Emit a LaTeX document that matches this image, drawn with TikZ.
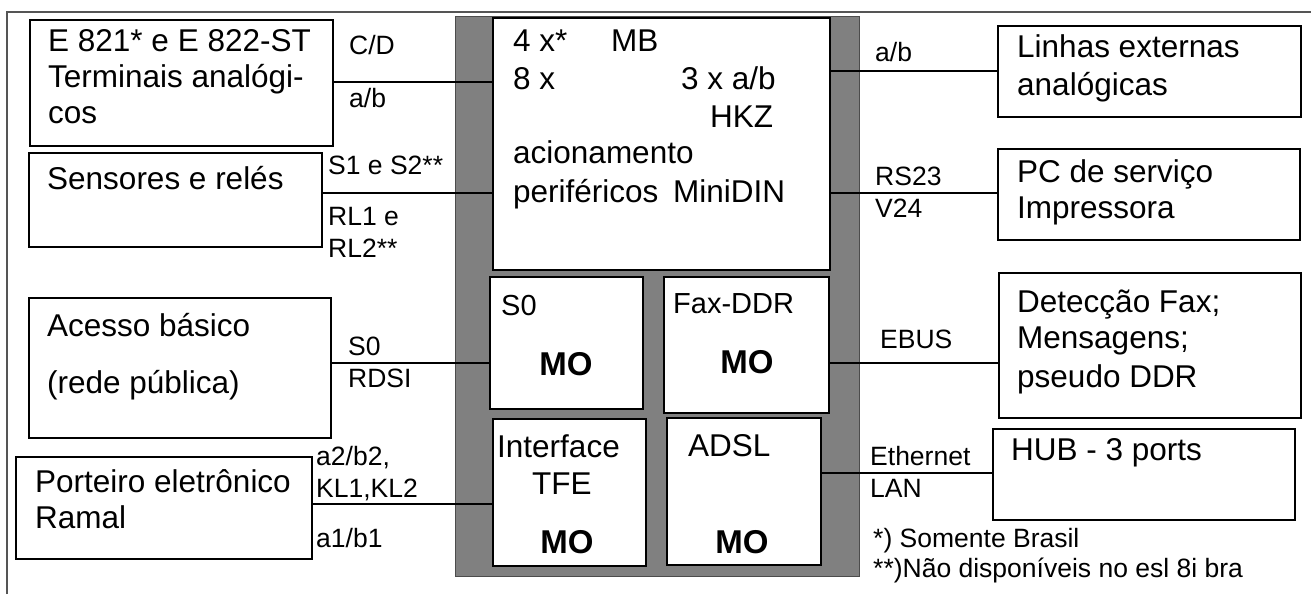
\documentclass[tikz,border=0pt]{standalone}
\usepackage{fontspec}
\setmainfont{Liberation Sans}
\definecolor{panelgray}{HTML}{808080}
\definecolor{framegray}{HTML}{555555}
\tikzset{
  box/.style={draw, line width=2pt, fill=white, inner sep=0pt, anchor=north west},
  big/.style={font=\fontsize{31.5}{35}\selectfont, inner sep=0pt, anchor=base west},
  mid/.style={font=\fontsize{29}{33}\selectfont, inner sep=0pt, anchor=base west},
  lbl/.style={font=\fontsize{26.5}{30}\selectfont, inner sep=0pt, anchor=base west},
  foot/.style={font=\fontsize{26.5}{30}\selectfont, inner sep=0pt, anchor=base west},
  mo/.style={font=\fontsize{33}{37}\selectfont\bfseries, inner sep=0pt, anchor=base},
  wire/.style={line width=1.3pt}
}
\begin{document}
\begin{tikzpicture}[x=1pt,y=-1pt]
\useasboundingbox (0,0) rectangle (1311,594);
% outer frame
\draw[framegray, line width=1.2pt] (7,594) -- (7,12) -- (1311,12);
% grey panel
\node[draw=black!70, fill=panelgray, line width=1pt, inner sep=0pt, anchor=north west,
      minimum width=404pt, minimum height=560pt] (panel) at (455,16) {};
% boxes
\node[box, minimum width=303pt, minimum height=126pt] (e821) at (29,19) {};
\node[box, minimum width=293pt, minimum height=94pt]  (sens) at (28,152) {};
\node[box, minimum width=302pt, minimum height=140pt] (acc)  at (28,297) {};
\node[box, minimum width=296pt, minimum height=102pt] (port) at (15,456) {};
\node[box, minimum width=337pt, minimum height=252pt] (main) at (492,17) {};
\node[box, minimum width=153pt, minimum height=132pt] (s0)   at (489,276) {};
\node[box, minimum width=165pt, minimum height=136pt] (fax)  at (663,276) {};
\node[box, minimum width=153pt, minimum height=147pt] (tfe)  at (492,418) {};
\node[box, minimum width=154pt, minimum height=147pt] (adsl) at (666,417) {};
\node[box, minimum width=303pt, minimum height=91pt]  (lin)  at (997,25) {};
\node[box, minimum width=302pt, minimum height=91pt]  (pc)   at (997,148) {};
\node[box, minimum width=302pt, minimum height=145pt] (det)  at (998,272) {};
\node[box, minimum width=302pt, minimum height=91pt]  (hub)  at (992,428) {};
% connectors
\draw[wire] (e821.east |- 0,82) -- (main.west |- 0,82);
\draw[wire] (sens.east |- 0,193) -- (main.west |- 0,193);
\draw[wire] (acc.east |- 0,363) -- (s0.west |- 0,363);
\draw[wire] (port.east |- 0,504) -- (tfe.west |- 0,504);
\draw[wire] (main.east |- 0,71) -- (lin.west |- 0,71);
\draw[wire] (main.east |- 0,193) -- (pc.west |- 0,193);
\draw[wire] (fax.east |- 0,363) -- ([xshift=2pt]det.west |- 0,363);
\draw[wire] (adsl.east |- 0,473) -- (hub.west |- 0,473);
% left box texts
\node[big] (t1) at (48,52) {E 821* e E 822-ST};
\node[big] (t2) at (48,87) {Terminais analógi-};
\node[big] (t3) at (48,123) {cos};
\node[big] (t4) at (47,189) {Sensores e relés};
\node[big] (t5) at (47,336) {Acesso básico};
\node[big] (t6) at (47,393) {(rede pública)};
\node[big] (t7) at (35,492) {Porteiro eletrônico};
\node[big] (t8) at (35,528) {Ramal};
% main box texts
\node[big] (m1) at (513,52) {4 x*};
\node[big] (m2) at (611,52) {MB};
\node[big] (m3) at (513,89) {8 x};
\node[big] (m4) at (681,89) {3 x a/b};
\node[big] (m5) at (710,127) {HKZ};
\node[big] (m6) at (513,163) {acionamento};
\node[big] (m7) at (513,202) {periféricos};
\node[big] (m8) at (673,202) {MiniDIN};
% module texts
\node[mid] (s0t) at (501,315) {S0};
\node[mo] (s0m) at (566,375) {MO};
\node[mid] (faxt) at (673,313) {Fax-DDR};
\node[mo] (faxm) at (747,373) {MO};
\node[big] (tfe1) at (497,457) {Interface};
\node[big] (tfe2) at (532,494) {TFE};
\node[mo] (tfem) at (567,553) {MO};
\node[big] (adt) at (688,456) {ADSL};
\node[mo] (adm) at (742,553) {MO};
% right box texts
\node[big] (r1) at (1017,58) {Linhas externas};
\node[big] (r2) at (1017,95) {analógicas};
\node[big] (r3) at (1017,182) {PC de serviço};
\node[big] (r4) at (1017,218) {Impressora};
\node[big] (r5) at (1017,312) {Detecção Fax;};
\node[big] (r6) at (1017,348) {Mensagens;};
\node[big] (r7) at (1017,387) {pseudo DDR};
\node[big] (r8) at (1011,460) {HUB - 3 ports};
% connector labels left
\node[lbl] (l1) at (349,55) {C/D};
\node[lbl] (l2) at (349,107) {a/b};
\node[lbl] (l3) at (328,174) {S1 e S2**};
\node[lbl] (l4) at (328,225) {RL1 e};
\node[lbl] (l5) at (328,257) {RL2**};
\node[lbl] (l6) at (348,355) {S0};
\node[lbl] (l7) at (348,387) {RDSI};
\node[lbl] (l8) at (316,465) {a2/b2,};
\node[lbl] (l9) at (316,497) {KL1,KL2};
\node[lbl] (l10) at (316,547) {a1/b1};
% connector labels right
\node[lbl] (k1) at (875,62) {a/b};
\node[lbl] (k2) at (875,185) {RS23};
\node[lbl] (k3) at (875,217) {V24};
\node[lbl] (k4) at (880,348) {EBUS};
\node[lbl] (k5) at (870,465) {Ethernet};
\node[lbl] (k6) at (870,497) {LAN};
% footnotes
\node[foot] (f1) at (873,547) {*) Somente Brasil};
\node[foot] (f2) at (873,577) {**)Não disponíveis no esl 8i bra};
\end{tikzpicture}
\end{document}
